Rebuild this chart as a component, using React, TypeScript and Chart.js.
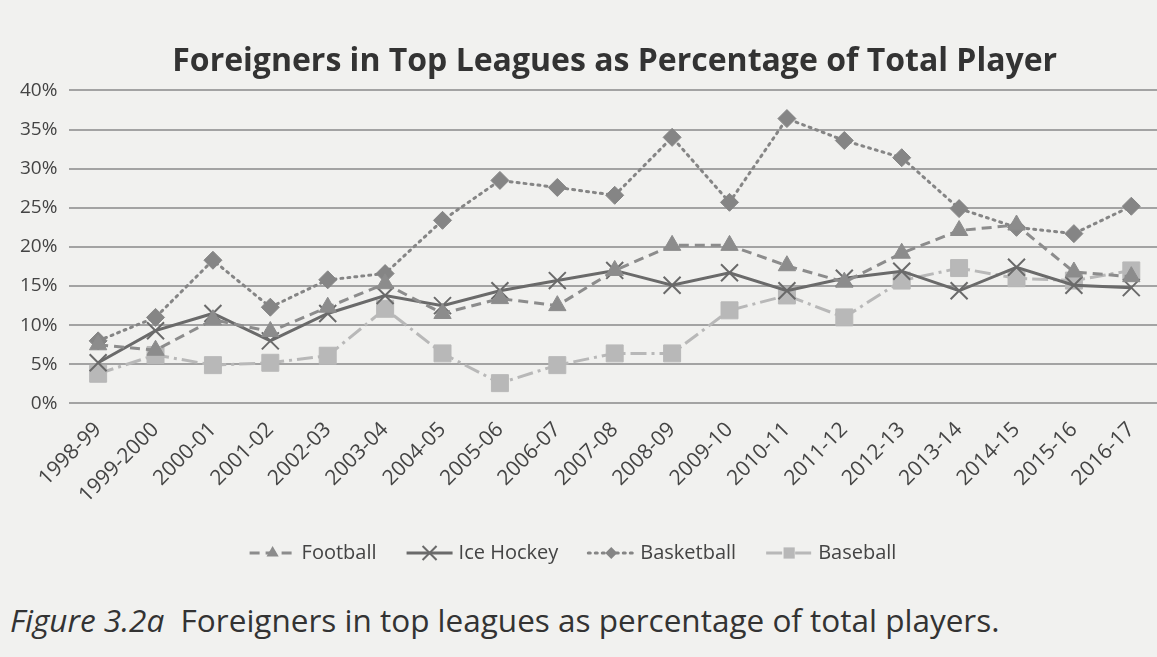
import React, { useEffect, useRef } from "react";
import { Chart, registerables } from "chart.js";

Chart.register(...registerables);

const seasons = [
  "1998-99", "1999-2000", "2000-01", "2001-02", "2002-03", "2003-04", "2004-05",
  "2005-06", "2006-07", "2007-08", "2008-09", "2009-10", "2010-11", "2011-12",
  "2012-13", "2013-14", "2014-15", "2015-16", "2016-17",
];
const football = [7.5, 6.8, 10.7, 9.2, 12.3, 15.3, 11.5, 13.4, 12.5, 17.0, 20.2, 20.2, 17.6, 15.5, 19.2, 22.1, 22.8, 16.8, 16.2];
const iceHockey = [5.2, 9.3, 11.5, 8.0, 11.5, 13.8, 12.5, 14.4, 15.7, 17.0, 15.1, 16.7, 14.4, 16.0, 16.9, 14.4, 17.4, 15.1, 14.8];
const basketball = [8.0, 11.0, 18.3, 12.3, 15.8, 16.6, 23.4, 28.5, 27.6, 26.6, 34.0, 25.7, 36.4, 33.6, 31.4, 24.9, 22.5, 21.7, 25.2];
const baseball = [3.8, 6.2, 4.9, 5.2, 6.1, 12.1, 6.4, 2.6, 4.9, 6.4, 6.4, 11.9, 13.8, 11.0, 15.7, 17.3, 16.0, 15.7, 17.0];
const yTicks = [0, 5, 10, 15, 20, 25, 30, 35, 40];

const FONT = "'Open Sans', Lato, sans-serif";

function drawMarker(ctx: CanvasRenderingContext2D, style: string, x: number, y: number, r: number, color: string, bw: number) {
  ctx.save();
  ctx.fillStyle = color;
  ctx.strokeStyle = color;
  ctx.lineWidth = bw;
  ctx.setLineDash([]);
  ctx.beginPath();
  if (style === "triangle") {
    ctx.moveTo(x, y - r);
    ctx.lineTo(x + r * 0.87, y + r * 0.5);
    ctx.lineTo(x - r * 0.87, y + r * 0.5);
    ctx.closePath();
    ctx.fill();
  } else if (style === "rectRot") {
    ctx.moveTo(x, y - r);
    ctx.lineTo(x + r, y);
    ctx.lineTo(x, y + r);
    ctx.lineTo(x - r, y);
    ctx.closePath();
    ctx.fill();
  } else if (style === "rect") {
    ctx.rect(x - r * 0.7, y - r * 0.7, r * 1.4, r * 1.4);
    ctx.fill();
  } else if (style === "crossRot") {
    const d = r * 0.7;
    ctx.moveTo(x - d, y - d);
    ctx.lineTo(x + d, y + d);
    ctx.moveTo(x + d, y - d);
    ctx.lineTo(x - d, y + d);
    ctx.stroke();
  }
  ctx.restore();
}

const legendMarkerR: Record<string, number> = { triangle: 7, crossRot: 10, rectRot: 6, rect: 8 };

const legendPlugin = {
  id: "lineLegend",
  afterDraw(chart: any) {
    const ctx = chart.ctx;
    const y = 553;
    ctx.save();
    ctx.font = `20px ${FONT}`;
    const sampleW = 46;
    const gapText = 6;
    const gapItem = 30;
    const items = chart.data.datasets.map((ds: any) => ({
      ds,
      tw: ctx.measureText(ds.label).width,
    }));
    const total = items.reduce((s: number, it: any) => s + sampleW + gapText + it.tw, 0) + gapItem * (items.length - 1);
    let x = 573 - total / 2;
    items.forEach((it: any) => {
      const ds = it.ds;
      ctx.strokeStyle = ds.borderColor;
      ctx.lineWidth = 3;
      ctx.lineCap = ds.borderCapStyle || "butt";
      ctx.setLineDash(ds.borderDash || []);
      ctx.beginPath();
      ctx.moveTo(x, y);
      ctx.lineTo(x + sampleW, y);
      ctx.stroke();
      ctx.setLineDash([]);
      drawMarker(ctx, ds.pointStyle, x + sampleW / 2, y, legendMarkerR[ds.pointStyle] || 6, ds.pointBackgroundColor, ds.pointBorderWidth);
      ctx.fillStyle = "#444";
      ctx.textBaseline = "middle";
      ctx.textAlign = "left";
      ctx.fillText(ds.label, x + sampleW + gapText, y);
      x += sampleW + gapText + it.tw + gapItem;
    });
    ctx.restore();
  },
};

export default function App() {
  const ref = useRef<HTMLCanvasElement | null>(null);
  useEffect(() => {
    if (!ref.current) return;
    const mk = (label: string, data: number[], color: string, ptColor: string, style: string, dash: number[], radius: number, cap: string, bw: number) => ({
      label,
      data,
      borderColor: color,
      borderWidth: 3,
      borderDash: dash,
      borderCapStyle: cap,
      pointStyle: style,
      pointRadius: radius,
      pointBackgroundColor: ptColor,
      pointBorderColor: ptColor,
      pointBorderWidth: bw,
      tension: 0,
      fill: false,
    });
    const chart = new Chart(ref.current, {
      type: "line",
      data: {
        labels: seasons,
        datasets: [
          mk("Football", football, "#8c8c8c", "#8c8c8c", "triangle", [10, 6], 10, "butt", 1),
          mk("Ice Hockey", iceHockey, "#6a6a6a", "#6a6a6a", "crossRot", [], 12, "butt", 2),
          mk("Basketball", basketball, "#858585", "#858585", "rectRot", [2, 5], 9, "round", 1),
          mk("Baseball", baseball, "#b8b8b8", "#b8b8b8", "rect", [16, 5, 3, 5], 12, "butt", 1),
        ] as any,
      },
      options: {
        animation: false,
        responsive: false,
        maintainAspectRatio: false,
        layout: { padding: { top: 43, left: 8, right: 0, bottom: 71 } },
        plugins: {
          legend: { display: false },
          tooltip: { enabled: false },
          title: {
            display: true,
            fullSize: false,
            text: "Foreigners in Top Leagues as Percentage of Total Player",
            color: "#333",
            font: { family: FONT, size: 32, weight: "bold" },
            padding: { top: 0, bottom: 9 },
            align: "center",
          },
        },
        scales: {
          x: {
            offset: true,
            grid: { display: false },
            border: { display: false },
            ticks: {
              color: "#444",
              font: { family: FONT, size: 21 },
              maxRotation: 45,
              minRotation: 45,
              padding: 6,
              autoSkip: false,
            },
          },
          y: {
            min: 0,
            max: 40,
            afterBuildTicks: (axis: any) => {
              axis.ticks = yTicks.map((v) => ({ value: v }));
            },
            grid: { color: "#a3a3a3", lineWidth: 2, drawTicks: false },
            border: { display: false },
            ticks: {
              color: "#444",
              font: { family: FONT, size: 19 },
              padding: 12,
              callback: (v: any) => `${v}%`,
            },
          },
        },
      } as any,
      plugins: [legendPlugin],
    });
    return () => chart.destroy();
  }, []);

  return (
    <div style={{ position: "fixed", left: 0, top: 0, width: 1157, height: 657, background: "#f1f1ef", overflow: "hidden" }}>
      <canvas ref={ref} width={1174} height={585} style={{ position: "absolute", left: 0, top: 0, width: 1174, height: 585 }} />
      <div
        style={{
          position: "absolute",
          left: 10,
          top: 598,
          fontFamily: FONT,
          fontSize: 31.5,
          color: "#333",
          whiteSpace: "nowrap",
        }}
      >
        <i>Figure 3.2a</i>&nbsp; Foreigners in top leagues as percentage of total players.
      </div>
    </div>
  );
}
